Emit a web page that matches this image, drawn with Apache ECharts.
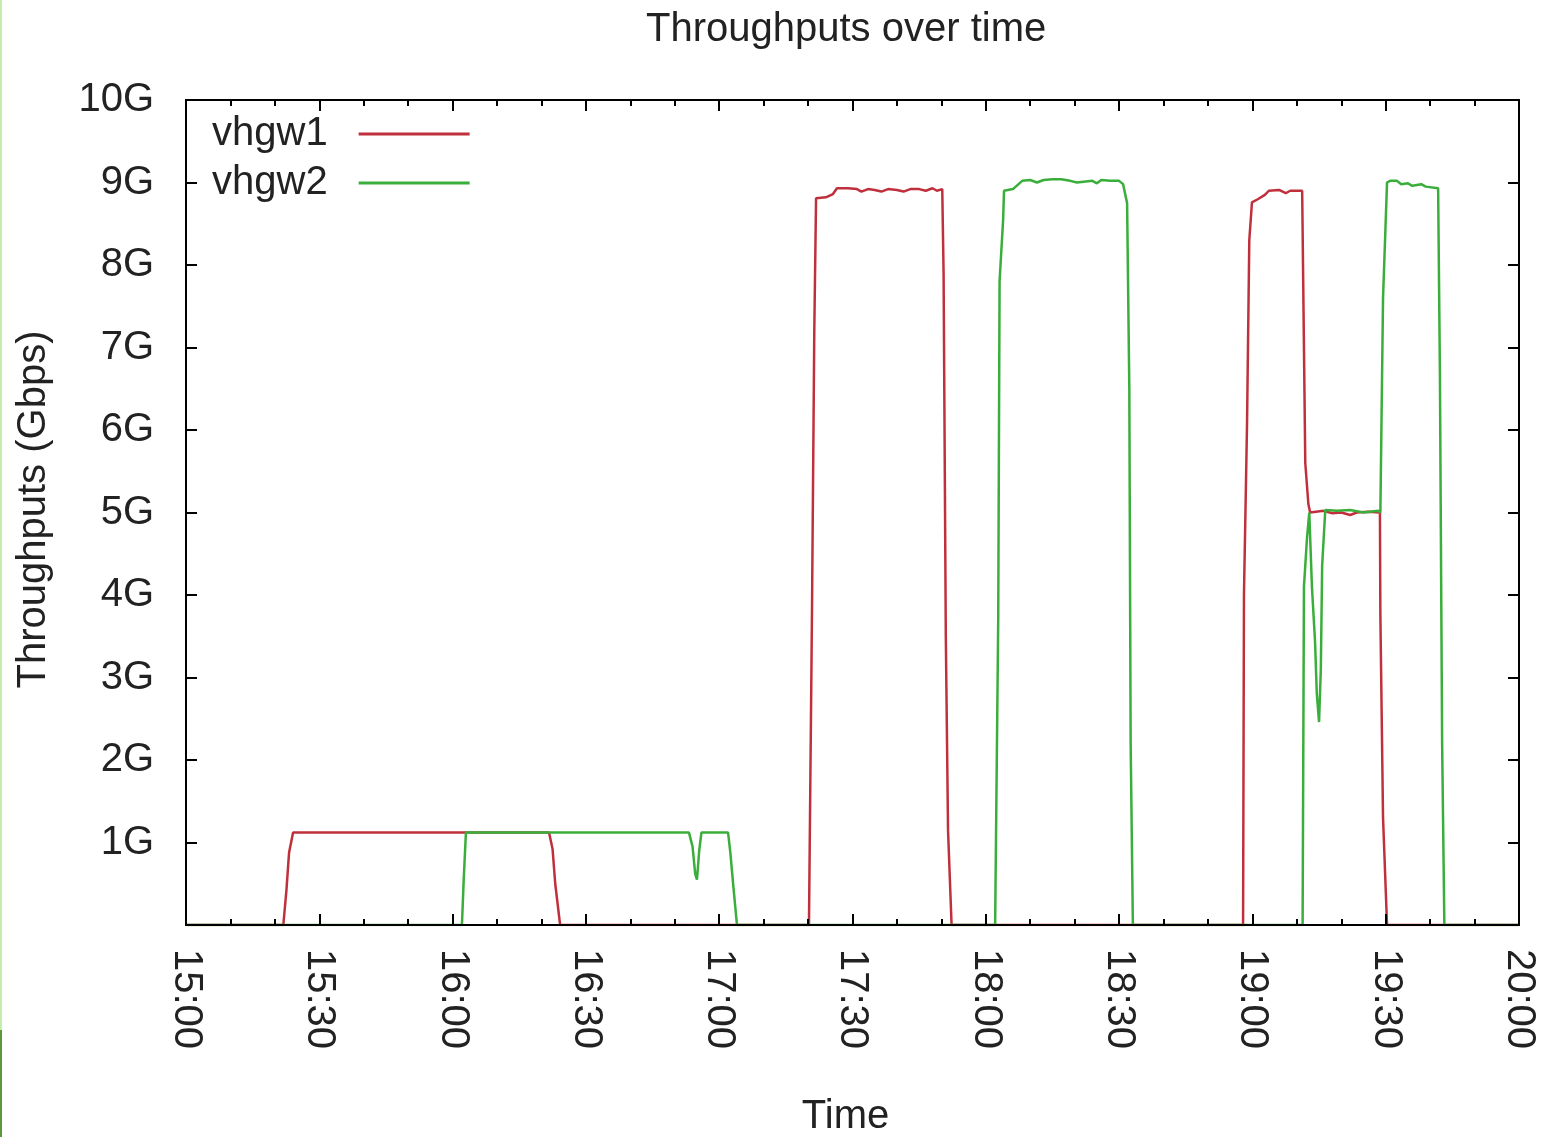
<!DOCTYPE html>
<html>
<head>
<meta charset="utf-8">
<title>Throughputs over time</title>
<script src="https://cdn.jsdelivr.net/npm/echarts@6/dist/echarts.min.js"></script>
<style>
  html, body { margin: 0; padding: 0; background: #fff; }
  #chart { width: 1544px; height: 1137px; }
</style>
</head>
<body>
<div id="chart"></div>
<script>
// minutes after 15:00, throughput in Gbps
const startHour = 15;
const xTicks = [0, 30, 60, 90, 120, 150, 180, 210, 240, 270, 300];
const yTicks = [0, 1, 2, 3, 4, 5, 6, 7, 8, 9, 10];

const vhgw1 = [
  [0, 0], [21.9, 0], [22.6, 0.42], [23.2, 0.88], [24.1, 1.12], [81.7, 1.12],
  [82.5, 0.92], [83.1, 0.5], [84.2, 0],
  [140.2, 0], [140.9, 3.9], [141.4, 7.2], [141.8, 8.81], [144, 8.82], [145.6, 8.86],
  [146.5, 8.93], [149, 8.93], [151, 8.92], [152, 8.89], [153.5, 8.92], [155, 8.91],
  [156.5, 8.89], [158, 8.92], [160, 8.91], [161.5, 8.89], [163, 8.92], [165, 8.92],
  [166.5, 8.9], [168, 8.93], [169, 8.9], [170.2, 8.92], [170.5, 7.9], [171.0, 3.5],
  [171.5, 1.15], [172.3, 0],
  [237.9, 0], [238.1, 4.0], [238.8, 6.1], [239.3, 8.3], [239.9, 8.76], [241.3, 8.8],
  [242.8, 8.85], [243.7, 8.9], [246, 8.91], [247.5, 8.87], [248.5, 8.9], [251.2, 8.9],
  [251.9, 5.6], [252.6, 5.1], [253, 5.0], [256, 5.02], [258, 4.99], [260, 5.0],
  [262, 4.97], [263.5, 5.0], [266, 5.01], [268.7, 5.0], [268.8, 3.76], [269.4, 1.3],
  [270.3, 0], [300, 0]
];

const vhgw2 = [
  [0, 0], [62.1, 0], [62.5, 0.55], [63, 1.12], [113.2, 1.12], [114, 0.95],
  [114.6, 0.62], [115, 0.55], [115.5, 0.9], [116, 1.12], [122, 1.12], [122.5, 0.88],
  [123.2, 0.46], [124, 0],
  [182.1, 0], [182.8, 3.73], [183.1, 7.8], [183.9, 8.55], [184.1, 8.9], [186.1, 8.92],
  [188.2, 9.02], [190, 9.03], [191.5, 9.0], [193, 9.03], [195, 9.04], [197, 9.04],
  [199, 9.02], [200.5, 9.0], [202, 9.01], [204, 9.02], [205, 8.99], [206, 9.03],
  [208, 9.02], [210, 9.02], [210.9, 8.98], [211.8, 8.75], [212.3, 6.5], [212.6, 2.2],
  [213.1, 0],
  [251.3, 0], [251.6, 4.1], [252.3, 4.7], [252.8, 5.0], [253.4, 4.1], [254.1, 3.43],
  [254.5, 2.8], [255, 2.46], [255.4, 3.1], [255.7, 4.36], [256.4, 5.03], [259, 5.02],
  [262, 5.03], [265, 5.0], [268.3, 5.02], [268.8, 5.0], [269.4, 7.6], [270.3, 9.0],
  [271, 9.02], [272.5, 9.02], [273.5, 8.98], [275, 8.99], [276, 8.96], [278, 8.98],
  [279, 8.95], [281.8, 8.93], [282.2, 6.7], [282.7, 2.2], [283.2, 0], [300, 0]
];

const font = 'Liberation Sans';
const fontSize = 40;
const textColor = '#222';
const tickLen = 11;

function timeLabel(m) {
  const h = startHour + Math.floor(m / 60);
  const mm = m % 60;
  return h + ':' + (mm < 10 ? '0' : '') + mm;
}

const chart = echarts.init(document.getElementById('chart'));

const xBase = {
  type: 'value',
  min: xTicks[0],
  max: xTicks[xTicks.length - 1],
  interval: xTicks[1] - xTicks[0],
  z: 5,
  splitLine: { show: false },
  axisLine: { show: true, onZero: false, lineStyle: { color: '#000', width: 2 } },
  axisTick: { show: true, inside: true, length: tickLen, lineStyle: { color: '#000', width: 2 } },
  minorTick: { show: true, splitNumber: 3, length: 6, lineStyle: { color: '#000', width: 2 } }
};

// y ticks are drawn by axes shifted into the grid, so they point inward
const yBase = {
  type: 'value',
  min: yTicks[0],
  max: yTicks[yTicks.length - 1],
  interval: yTicks[1] - yTicks[0],
  z: 5,
  splitLine: { show: false },
  axisLine: { show: true, onZero: false, lineStyle: { color: '#000', width: 2 } },
  axisTick: { show: false }
};

const yTickOnly = {
  type: 'value',
  min: yTicks[0],
  max: yTicks[yTicks.length - 1],
  interval: yTicks[1] - yTicks[0],
  z: 5,
  offset: -tickLen,
  splitLine: { show: false },
  axisLine: { show: false, onZero: false },
  axisLabel: { show: false },
  axisTick: { show: true, inside: false, length: tickLen, lineStyle: { color: '#000', width: 2 } }
};

const option = {
  backgroundColor: '#fff',
  animation: false,
  textStyle: { fontFamily: font },
  title: {
    text: 'Throughputs over time',
    left: 641,
    top: 5,
    textStyle: { fontFamily: font, fontSize: fontSize, fontWeight: 'normal', color: textColor }
  },
  legend: {
    orient: 'vertical',
    left: 207,
    top: 109,
    align: 'right',
    icon: 'rect',
    itemWidth: 111,
    itemHeight: 3,
    itemGap: 9,
    textStyle: { fontFamily: font, fontSize: fontSize, color: textColor, padding: [0, 26, 0, 0] },
    data: ['vhgw1', 'vhgw2']
  },
  grid: {
    left: 186,
    right: 25,
    top: 100,
    bottom: 212,
    outerBoundsMode: 'none',
    show: true,
    borderColor: '#000',
    borderWidth: 2
  },
  xAxis: [
    Object.assign({}, xBase, {
      position: 'bottom',
      name: 'Time',
      nameLocation: 'middle',
      nameGap: 172,
      nameTextStyle: { fontFamily: font, fontSize: fontSize, color: textColor, padding: [0, 14, 0, 0] },
      axisLabel: {
        rotate: -90,
        margin: 24,
        fontFamily: font,
        fontSize: fontSize,
        color: textColor,
        formatter: timeLabel
      }
    }),
    Object.assign({}, xBase, { position: 'top', axisLabel: { show: false } })
  ],
  yAxis: [
    Object.assign({}, yBase, {
      position: 'left',
      name: 'Throughputs (Gbps)',
      nameLocation: 'middle',
      nameGap: 132,
      nameTextStyle: { fontFamily: font, fontSize: fontSize, color: textColor, padding: [0, 0, 0, 6] },
      axisLabel: {
        margin: 32,
        fontFamily: font,
        fontSize: fontSize,
        color: textColor,
        formatter: v => (v === 0 ? '' : v + 'G')
      }
    }),
    Object.assign({}, yBase, { position: 'right', axisLabel: { show: false } }),
    Object.assign({}, yTickOnly, { position: 'left' }),
    Object.assign({}, yTickOnly, { position: 'right' })
  ],
  series: [
    {
      name: 'vhgw1',
      type: 'line',
      xAxisIndex: 0,
      yAxisIndex: 0,
      data: vhgw1,
      symbol: 'none',
      color: '#c0303c',
      lineStyle: { width: 2.5, color: '#c0303c' }
    },
    {
      name: 'vhgw2',
      type: 'line',
      xAxisIndex: 0,
      yAxisIndex: 0,
      data: vhgw2,
      symbol: 'none',
      color: '#3aae3a',
      lineStyle: { width: 2.5, color: '#3aae3a' }
    }
  ],
  graphic: [
    { type: 'rect', left: 0, top: 0, shape: { width: 2, height: 1030 }, style: { fill: '#c4eeae' } },
    { type: 'rect', left: 0, top: 1030, shape: { width: 2, height: 107 }, style: { fill: '#5a9a3a' } }
  ]
};

chart.setOption(option);
</script>
</body>
</html>
